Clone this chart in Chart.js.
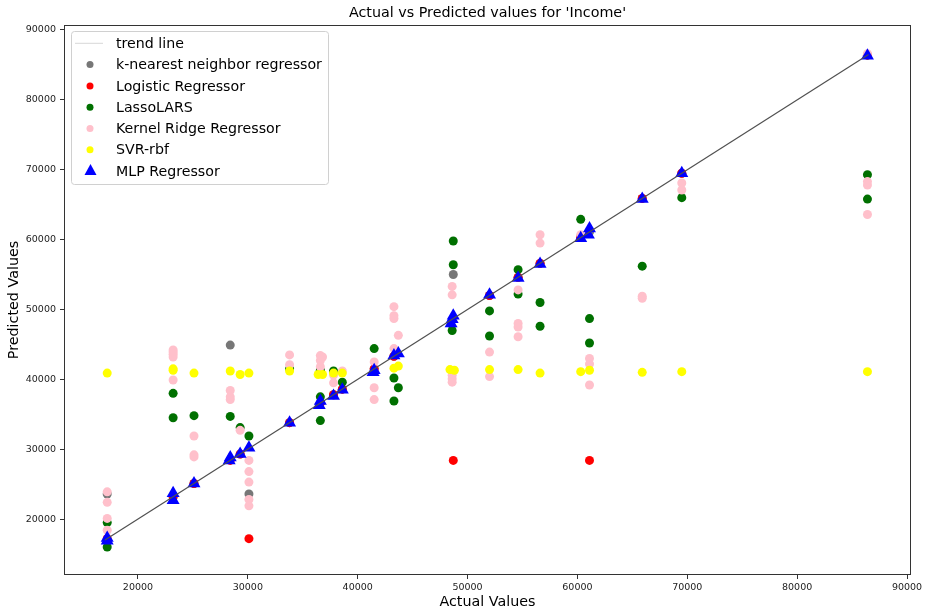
<!DOCTYPE html>
<html>
<head>
<meta charset="utf-8">
<script src="https://cdn.jsdelivr.net/npm/chart.js@4.4.1/dist/chart.umd.min.js"></script>
<style>
  body { margin: 0; background: #fff; }
  canvas { display: block; }
</style>
</head>
<body>
<canvas id="chart" width="927" height="611"></canvas>
<script>
// ticks
const xTicks = [20000, 30000, 40000, 50000, 60000, 70000, 80000, 90000];
const yTicks = [20000, 30000, 40000, 50000, 60000, 70000, 80000, 90000];

// trend line ends
const trendX = [17000, 86500];
const trendY = [17000, 86500];

// k-nearest neighbor regressor
const knnX = [17200, 28400, 30100, 48700, 23200, 25100, 29300, 33800, 36600, 37800, 38600, 41500, 43300, 52000, 54600, 56600, 60300, 61100, 65900, 69500, 86400];
const knnY = [23600, 44900, 23600, 55000, 23200, 25100, 29300, 33800, 36600, 37800, 38600, 41500, 43300, 52000, 54600, 56600, 60300, 61100, 65900, 69500, 86400];

// Logistic Regressor
const logX = [30100, 48700, 61100, 17200, 23200, 25100, 28400, 29300, 33800, 36600, 37800, 38600, 41500, 43300, 52000, 54600, 56600, 60300, 65900, 69500, 86400];
const logY = [17200, 28400, 28400, 17200, 23200, 25100, 28400, 29300, 33800, 36600, 37800, 38600, 41500, 43300, 52000, 54600, 56600, 60300, 65900, 69500, 86400];

// LassoLARS
const lassoX = [17200, 17200, 23200, 23200, 25100, 28400, 29300, 30100, 33800, 36600, 36600, 36600, 37800, 38600, 41500, 43300, 43700, 43300, 48700, 48700, 48600, 52000, 52000, 54600, 54600, 56600, 56600, 60300, 61100, 61100, 65900, 69500, 86400, 86400];
const lassoY = [19500, 16000, 38000, 34500, 34800, 34700, 33100, 31900, 41500, 41300, 37500, 34100, 41200, 39600, 44400, 40200, 38800, 36900, 59800, 56400, 47000, 49800, 46200, 55700, 52200, 51000, 47600, 62900, 48700, 45200, 56200, 66000, 69300, 65800];

// Kernel Ridge Regressor
const krrX = [17200, 17200, 17200, 17200, 23200, 23200, 23200, 23200, 23200, 25100, 25100, 25100, 28400, 28400, 28400, 29300, 30100, 30100, 30100, 30100, 30100, 33800, 33800, 36600, 36800, 36600, 36600, 37800, 37800, 38600, 41500, 41500, 41500, 43300, 43300, 43300, 43700, 43300, 48600, 48600, 48600, 48600, 48600, 52000, 52000, 54600, 54600, 54600, 54600, 56600, 56600, 60300, 61100, 61100, 61100, 65900, 65900, 69500, 69500, 86400, 86400, 86400, 86400];
const krrY = [23900, 22400, 20100, 18400, 44200, 43900, 43600, 43200, 39900, 31900, 29200, 28900, 38400, 37500, 37100, 32700, 28400, 26800, 25300, 22800, 21900, 43500, 42100, 43400, 43200, 42700, 41800, 40600, 39500, 41200, 42500, 38800, 37100, 50400, 49100, 48700, 46300, 44400, 53300, 52100, 40600, 40100, 39600, 43900, 40400, 52800, 48000, 47500, 46100, 60700, 59500, 60700, 43000, 42200, 39200, 51900, 51600, 68100, 67100, 68300, 67800, 63600, 86600];

// SVR-rbf
const svrX = [17200, 23200, 23200, 25100, 28400, 29300, 30100, 33800, 36400, 36800, 37800, 38600, 43300, 43700, 48400, 48800, 52000, 54600, 56600, 60300, 61100, 65900, 69500, 86400];
const svrY = [40900, 41500, 41300, 40900, 41200, 40700, 40900, 41200, 40700, 40700, 40900, 40900, 41600, 41900, 41400, 41300, 41400, 41400, 40900, 41100, 41300, 41000, 41100, 41100];

// MLP Regressor
const mlpX = [17200, 17200, 23200, 23200, 25100, 28400, 28300, 29300, 30100, 33800, 36600, 36500, 37800, 38600, 41500, 41400, 43300, 43700, 48500, 48600, 48700, 52000, 54600, 56600, 60300, 61100, 61000, 65900, 69500, 86400];
const mlpY = [17300, 16900, 23700, 22700, 25100, 28800, 28400, 29300, 30200, 33800, 36900, 36300, 37600, 38500, 41300, 41000, 43400, 43700, 48000, 48600, 49100, 52100, 54500, 56500, 60200, 61600, 60700, 65800, 69500, 86300];

const pts = (xs, ys) => xs.map((x, i) => ({ x: x, y: ys[i] }));

const FONT = "'DejaVu Sans', sans-serif";

const datasets = [
  { label: 'trend line', data: pts(trendX, trendY), showLine: true, borderColor: '#505050', borderWidth: 1.2, pointRadius: 0, order: -1, legendColor: '#d8d8d8' },
  { label: 'k-nearest neighbor regressor', data: pts(knnX, knnY), backgroundColor: '#777777', order: 6 },
  { label: 'Logistic Regressor', data: pts(logX, logY), backgroundColor: '#ff0000', order: 5 },
  { label: 'LassoLARS', data: pts(lassoX, lassoY), backgroundColor: '#007000', order: 4 },
  { label: 'Kernel Ridge Regressor', data: pts(krrX, krrY), backgroundColor: '#ffc0cb', order: 3 },
  { label: 'SVR-rbf', data: pts(svrX, svrY), backgroundColor: '#ffff00', order: 2 },
  { label: 'MLP Regressor', data: pts(mlpX, mlpY), backgroundColor: '#0000ff', pointStyle: 'triangle', pointRadius: 7.5, order: 1 }
];
datasets.forEach(d => {
  if (d.pointRadius === undefined) d.pointRadius = 4.5;
  if (d.backgroundColor) d.borderColor = d.backgroundColor;
  if (d.label !== 'trend line') d.borderWidth = 0;
  d.pointHoverRadius = d.pointRadius;
});

// frame, title and boxed legend drawn by hand
const decor = {
  id: 'decor',
  afterDraw(chart) {
    const ctx = chart.ctx;
    const a = chart.chartArea;
    ctx.save();
    ctx.strokeStyle = '#333';
    ctx.lineWidth = 1;
    ctx.strokeRect(a.left + 0.5, a.top + 0.5, a.right - a.left - 1, a.bottom - a.top - 1);

    ctx.fillStyle = '#000';
    ctx.font = '14.3px ' + FONT;
    ctx.textAlign = 'center';
    ctx.textBaseline = 'middle';
    ctx.fillText("Actual vs Predicted values for 'Income'", (a.left + a.right) / 2, 13);

    // legend box
    const bx = 71.5, by = 31.5, bw = 257, bh = 153;
    ctx.fillStyle = 'rgba(255,255,255,0.85)';
    ctx.strokeStyle = '#d0d0d0';
    ctx.beginPath();
    ctx.roundRect(bx, by, bw, bh, 3);
    ctx.fill();
    ctx.stroke();

    ctx.font = '14.2px ' + FONT;
    ctx.textAlign = 'left';
    chart.data.datasets.forEach((d, i) => {
      const y = 43.3 + i * 21.3;
      if (d.label === 'trend line') {
        ctx.strokeStyle = d.legendColor;
        ctx.lineWidth = 1;
        ctx.beginPath();
        ctx.moveTo(75, y);
        ctx.lineTo(103, y);
        ctx.stroke();
      } else if (d.pointStyle === 'triangle') {
        ctx.fillStyle = d.backgroundColor;
        ctx.beginPath();
        ctx.moveTo(90.5, y - 7);
        ctx.lineTo(96.5, y + 4);
        ctx.lineTo(84.5, y + 4);
        ctx.closePath();
        ctx.fill();
      } else {
        ctx.fillStyle = d.backgroundColor;
        ctx.beginPath();
        ctx.arc(90, y, 3.5, 0, Math.PI * 2);
        ctx.fill();
      }
      ctx.fillStyle = '#000';
      ctx.fillText(d.label, 116, y + 1);
    });
    ctx.restore();
  }
};

new Chart(document.getElementById('chart'), {
  type: 'scatter',
  data: { datasets: datasets },
  options: {
    responsive: false,
    animation: false,
    devicePixelRatio: 1,
    layout: { padding: { top: 25, right: 16, left: 0, bottom: 0 } },
    plugins: {
      legend: { display: false },
      title: { display: false },
      tooltip: { enabled: false }
    },
    scales: {
      x: {
        type: 'linear',
        min: 13267,
        max: 90364,
        afterBuildTicks: s => { s.ticks = xTicks.map(v => ({ value: v })); },
        afterFit: s => { s.height = 36; },
        border: { display: false },
        grid: { drawOnChartArea: false, drawTicks: true, tickLength: 4, tickColor: '#333' },
        ticks: { color: '#222', font: { family: FONT, size: 9.5 }, padding: 3, maxRotation: 0, callback: v => String(v) },
        title: { display: true, text: 'Actual Values', color: '#000', font: { family: FONT, size: 14.3 }, padding: { top: 0, bottom: 0 } }
      },
      y: {
        type: 'linear',
        min: 12000,
        max: 90714,
        afterBuildTicks: s => { s.ticks = yTicks.map(v => ({ value: v })); },
        afterFit: s => { s.width = 64; },
        border: { display: false },
        grid: { drawOnChartArea: false, drawTicks: true, tickLength: 4, tickColor: '#333' },
        ticks: { color: '#222', font: { family: FONT, size: 9.5 }, padding: 4, callback: v => String(v) },
        title: { display: true, text: 'Predicted Values', color: '#000', font: { family: FONT, size: 14.3 }, padding: { top: 6, bottom: 0 } }
      }
    }
  },
  plugins: [decor]
});
</script>
</body>
</html>
